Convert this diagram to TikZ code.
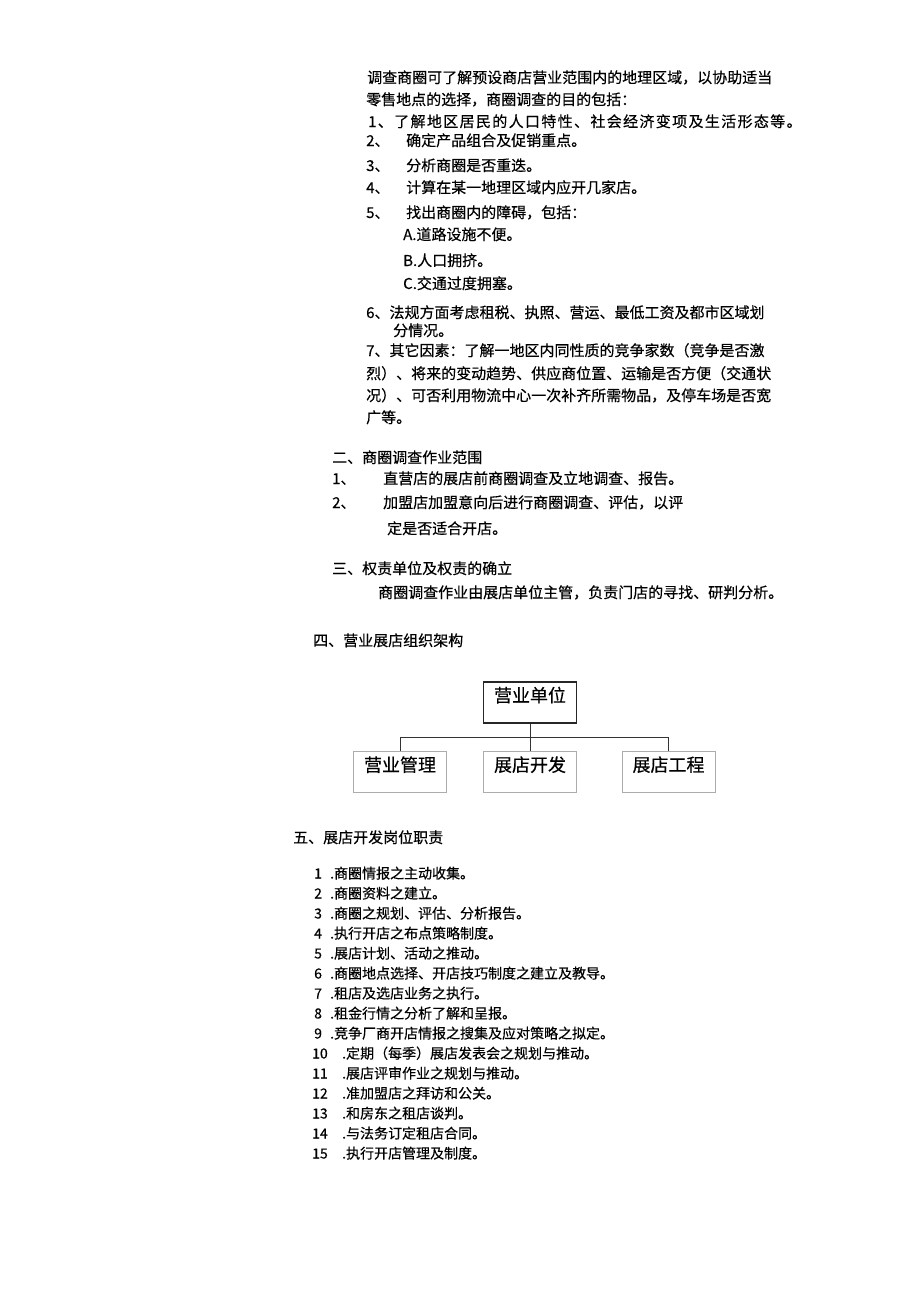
\documentclass[tikz,border=0pt]{standalone}
\usepackage{fontspec}
\newfontfamily\cjk[FakeBold=0.4]{Noto Sans CJK SC}
\newfontfamily\cjkwide[FakeBold=0.4,LetterSpace=9]{Noto Sans CJK SC}

\begin{document}
\begin{tikzpicture}
    [x=1pt, y={(0pt,-1pt)},
     txt/.style = {anchor=base west, inner sep=0pt, font=\cjk\fontsize{15}{18}\selectfont},
     duty/.style = {txt, font=\cjk\fontsize{14}{17}\selectfont},
     unitbox/.style = {draw=black!85, line width=1.3pt, minimum width=93pt, inner sep=0pt,
                       text height=20pt, text depth=21pt, font=\cjk\fontsize{18}{20}\selectfont},
     subbox/.style = {unitbox, draw=gray!65, line width=0.8pt},
     link/.style = {draw=black!80, line width=1pt}]

    \useasboundingbox[fill=white] (0,0) rectangle (920,1301);

    % survey aims
    \node[txt] (intro1) at (367,83) {调查商圈可了解预设商店营业范围内的地理区域，以协助适当};
    \node[txt] (intro2) at (366,105) {零售地点的选择，商圈调查的目的包括：};
    \node[txt, font=\cjkwide\fontsize{15}{18}\selectfont] (aim1) at (368,127) {1、了解地区居民的人口特性、社会经济变项及生活形态等。};
    \node[txt] (n2) at (366,146) {2、};
    \node[txt] (aim2) at (406,146) {确定产品组合及促销重点。};
    \node[txt] (n3) at (366,171) {3、};
    \node[txt] (aim3) at (406,171) {分析商圈是否重迭。};
    \node[txt] (n4) at (366,193) {4、};
    \node[txt] (aim4) at (406,193) {计算在某一地理区域内应开几家店。};
    \node[txt] (n5) at (366,218) {5、};
    \node[txt] (aim5) at (406,218) {找出商圈内的障碍，包括：};
    \node[txt] (aim5a) at (403,240) {A.道路设施不便。};
    \node[txt] (aim5b) at (403,266) {B.人口拥挤。};
    \node[txt] (aim5c) at (403,289) {C.交通过度拥塞。};
    \node[txt] (aim6) at (366,318) {6、法规方面考虑租税、执照、营运、最低工资及都市区域划};
    \node[txt] (aim6b) at (393,336) {分情况。};
    \node[txt] (aim7) at (366,356) {7、其它因素：了解一地区内同性质的竞争家数（竞争是否激};
    \node[txt] (aim7b) at (366,379) {烈）、将来的变动趋势、供应商位置、运输是否方便（交通状};
    \node[txt] (aim7c) at (366,401) {况）、可否利用物流中心一次补齐所需物品，及停车场是否宽};
    \node[txt] (aim7d) at (366,423) {广等。};

    % scope
    \node[txt] (sec2) at (332,463) {二、商圈调查作业范围};
    \node[txt] (s1) at (332,484) {1、};
    \node[txt] (scope1) at (383,484) {直营店的展店前商圈调查及立地调查、报告。};
    \node[txt] (s2) at (332,508) {2、};
    \node[txt] (scope2) at (383,508) {加盟店加盟意向后进行商圈调查、评估，以评};
    \node[txt] (scope2b) at (387,534) {定是否适合开店。};

    \node[txt] (sec3) at (332,574) {三、权责单位及权责的确立};
    \node[txt] (resp) at (378,598) {商圈调查作业由展店单位主管，负责门店的寻找、研判分析。};

    % org chart
    \node[txt] (sec4) at (313,646) {四、营业展店组织架构};
    \node[unitbox] (unit) at (530,702.5) {营业单位};
    \node[subbox] (mgmt) at (400,772) {营业管理};
    \node[subbox] (dev) at (530,772) {展店开发};
    \node[subbox] (eng) at (668.5,772) {展店工程};
    \coordinate (bus) at (530,737);
    \draw[link] (unit) -- (dev);
    \draw[link] (mgmt) |- (bus) -| (eng);

    % duties
    \node[txt] (sec5) at (293,843) {五、展店开发岗位职责};
    \foreach \txt [count=\k] in {商圈情报之主动收集。, 商圈资料之建立。, 商圈之规划、评估、分析报告。,
        执行开店之布点策略制度。, 展店计划、活动之推动。, 商圈地点选择、开店技巧制度之建立及教导。,
        租店及选店业务之执行。, 租金行情之分析了解和呈报。, 竞争厂商开店情报之搜集及应对策略之拟定。,
        定期（每季）展店发表会之规划与推动。, 展店评审作业之规划与推动。, 准加盟店之拜访和公关。,
        和房东之租店谈判。, 与法务订定租店合同。, 执行开店管理及制度。} {
        \pgfmathsetmacro\ny{858.5+20*\k}
        \pgfmathsetmacro\nx{\k<10 ? 314 : 312}
        \pgfmathsetmacro\dx{\k<10 ? 330 : 342}
        \node[duty] (num\k) at (\nx,\ny) {\k};
        \node[duty] (duty\k) at (\dx,\ny) {.\txt};
    }
\end{tikzpicture}
\end{document}
